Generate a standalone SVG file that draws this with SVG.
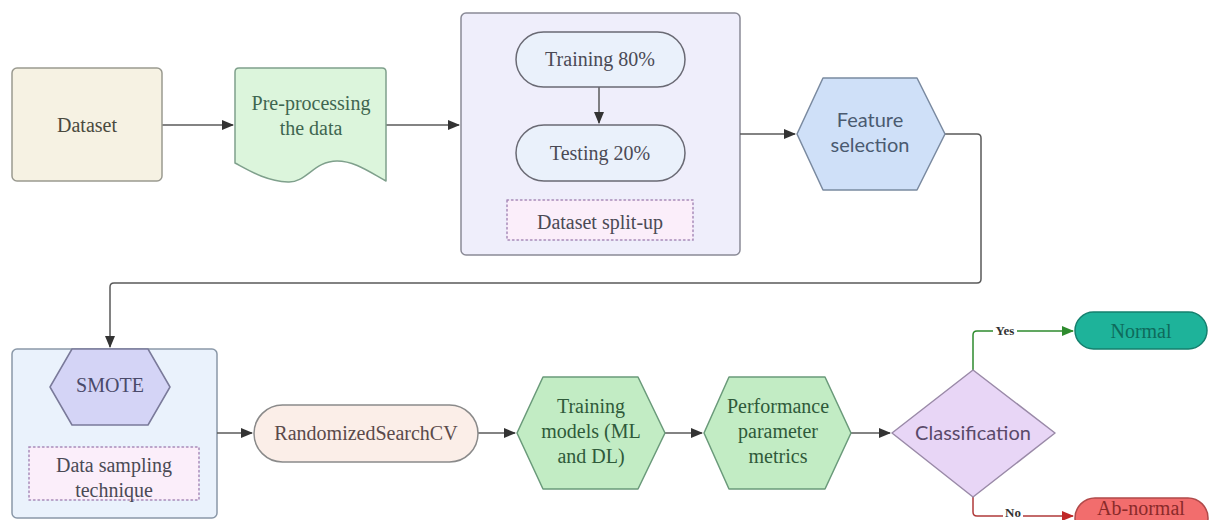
<svg xmlns="http://www.w3.org/2000/svg" width="1213" height="520" viewBox="0 0 1213 520">
  <style>
    .lbl { font-family: "Liberation Serif", "Times New Roman", serif; font-size: 20px; text-anchor: middle; }
    .sans { font-family: Lato, "Liberation Sans", sans-serif; font-size: 20px; text-anchor: middle; }
    .edge { fill: none; stroke: #5a5a5a; stroke-width: 1.5; }
    .shape { stroke-width: 1.5; stroke-linejoin: round; }
    .note { stroke-width: 1.5; stroke-dasharray: 1.5 3; stroke-linecap: round; }
    .tag { font-family: "Liberation Serif", "Times New Roman", serif; font-size: 13px; font-weight: bold; text-anchor: middle; }
  </style>
  <defs>
    <marker id="arr" markerUnits="userSpaceOnUse" markerWidth="12" markerHeight="10" refX="11" refY="5" orient="auto">
      <path d="M0,0 L12,5 L0,10 Z" fill="#333333"/>
    </marker>
    <marker id="arrG" markerUnits="userSpaceOnUse" markerWidth="12" markerHeight="10" refX="11" refY="5" orient="auto">
      <path d="M0,0 L12,5 L0,10 Z" fill="#2e8b2e"/>
    </marker>
    <marker id="arrR" markerUnits="userSpaceOnUse" markerWidth="12" markerHeight="10" refX="11" refY="5" orient="auto">
      <path d="M0,0 L12,5 L0,10 Z" fill="#c02828"/>
    </marker>
  </defs>
  <rect width="1213" height="520" fill="#ffffff"/>

  <!-- container frames sit underneath everything else -->
  <g id="split-container">
    <rect class="shape" x="461" y="13" width="279" height="242" rx="5" fill="#efeefb" stroke="#8a8a96"/>
  </g>
  <g id="sampling-container">
    <rect class="shape" x="12" y="349" width="205" height="169" rx="5" fill="#eaf2fc" stroke="#8a98a8"/>
  </g>

  <!-- connectors -->
  <g id="connectors">
    <path class="edge" d="M162,125 H233" marker-end="url(#arr)"/>
    <path class="edge" d="M386,125 H459" marker-end="url(#arr)"/>
    <path class="edge" d="M599,87 V123" marker-end="url(#arr)"/>
    <path class="edge" d="M740,134 H795" marker-end="url(#arr)"/>
    <path class="edge" d="M945,134 H977 Q981,134 981,138 V279 Q981,283 977,283 H114 Q110,283 110,287 V347" marker-end="url(#arr)"/>
    <path class="edge" d="M217,433 H252" marker-end="url(#arr)"/>
    <path class="edge" d="M478,433 H515" marker-end="url(#arr)"/>
    <path class="edge" d="M665,433 H702" marker-end="url(#arr)"/>
    <path class="edge" d="M851,433 H890" marker-end="url(#arr)"/>
    <path class="edge" d="M973,370 V335 Q973,331 977,331 H1073" style="stroke:#2e8b2e" marker-end="url(#arrG)"/>
    <path class="edge" d="M973,497 V512 Q973,516 977,516 H1073" style="stroke:#b03a3a" marker-end="url(#arrR)"/>
    <rect x="993" y="324" width="24" height="14" fill="#ffffff"/>
    <text class="tag" x="1005" y="335" fill="#333333">Yes</text>
    <rect x="1003" y="509" width="20" height="11" fill="#ffffff"/>
    <text class="tag" x="1013" y="517" fill="#333333">No</text>
  </g>

  <!-- top row -->
  <g id="dataset">
    <rect class="shape" x="12" y="68" width="150" height="113" rx="5" fill="#f6f2e3" stroke="#9a9a90"/>
    <text class="lbl" x="87" y="132" fill="#4a4a3e">Dataset</text>
  </g>

  <g id="preprocessing">
    <path class="shape" d="M235,72 Q235,68 239,68 L382,68 Q386,68 386,72 L386,181 C368,171 354,161 337,161 C314,161 306,183 288,182 C266,181 250,171 235,163 Z" fill="#dcf5dc" stroke="#7fa08c"/>
    <text class="lbl" x="311" y="110" fill="#3f6650">Pre-processing</text>
    <text class="lbl" x="311" y="135" fill="#3f6650">the data</text>
  </g>

  <g id="training">
    <rect class="shape" x="516" y="32" width="169" height="55" rx="27.5" fill="#eaf1fb" stroke="#6a6a74"/>
    <text class="lbl" x="600" y="66" fill="#4a4a55">Training 80%</text>
  </g>
  <g id="testing">
    <rect class="shape" x="516" y="125" width="169" height="56" rx="28" fill="#eaf1fb" stroke="#6a6a74"/>
    <text class="lbl" x="600" y="160" fill="#4a4a55">Testing 20%</text>
  </g>
  <g id="split-note">
    <rect class="note" x="507" y="200" width="186" height="40" fill="#fbeefa" stroke="#a88ab8"/>
    <text class="lbl" x="600" y="229" fill="#4a4a55">Dataset split-up</text>
  </g>

  <g id="feature-selection">
    <polygon class="shape" points="797,134 823,78 917,78 945,134 917,190 823,190" fill="#cfe0f8" stroke="#7a8aa0"/>
    <text class="sans" x="870" y="127" fill="#4a5a70">Feature</text>
    <text class="sans" x="870" y="152" fill="#4a5a70">selection</text>
  </g>

  <!-- bottom row -->
  <g id="smote">
    <polygon class="shape" points="50,387 72,349 148,349 170,387 148,425 72,425" fill="#d4d4f6" stroke="#7a7a9a"/>
    <text class="lbl" x="110" y="392" fill="#4a4a6a">SMOTE</text>
  </g>
  <g id="sampling-note">
    <rect class="note" x="29" y="447" width="170" height="53" fill="#fbeefa" stroke="#a88ab8"/>
    <text class="lbl" x="114" y="472" fill="#4a4a55">Data sampling</text>
    <text class="lbl" x="114" y="497" fill="#4a4a55">technique</text>
  </g>

  <g id="randomized-search">
    <rect class="shape" x="254" y="405" width="224" height="57" rx="28.5" fill="#fbeee8" stroke="#8a8a8a"/>
    <text class="lbl" x="366" y="440" fill="#5a4a4a">RandomizedSearchCV</text>
  </g>

  <g id="training-models">
    <polygon class="shape" points="517,433 543,377 638,377 665,433 638,489 543,489" fill="#c2ecc4" stroke="#6a9a7a"/>
    <text class="lbl" x="591" y="413" fill="#2f5a3a">Training</text>
    <text class="lbl" x="591" y="438" fill="#2f5a3a">models (ML</text>
    <text class="lbl" x="591" y="463" fill="#2f5a3a">and DL)</text>
  </g>

  <g id="performance">
    <polygon class="shape" points="704,433 729,377 825,377 851,433 825,489 729,489" fill="#c2ecc4" stroke="#6a9a7a"/>
    <text class="lbl" x="778" y="413" fill="#2f5a3a">Performance</text>
    <text class="lbl" x="778" y="438" fill="#2f5a3a">parameter</text>
    <text class="lbl" x="778" y="463" fill="#2f5a3a">metrics</text>
  </g>

  <g id="classification">
    <polygon class="shape" points="892,433 973,370 1055,433 973,497" fill="#e8d6f6" stroke="#9a8aa8"/>
    <text class="sans" x="973" y="440" fill="#5a4a6a">Classification</text>
  </g>

  <g id="normal">
    <rect class="shape" x="1075" y="312" width="132" height="37" rx="18.5" fill="#1eb39a" stroke="#15806e"/>
    <text class="lbl" x="1141" y="338" fill="#0e6b5c">Normal</text>
  </g>

  <g id="abnormal">
    <rect class="shape" x="1075" y="498" width="133" height="40" rx="20" fill="#f26d6d" stroke="#b04a4a"/>
    <text class="lbl" x="1141" y="515" font-size="17" fill="#8a2a2a">Ab-normal</text>
  </g>
</svg>
